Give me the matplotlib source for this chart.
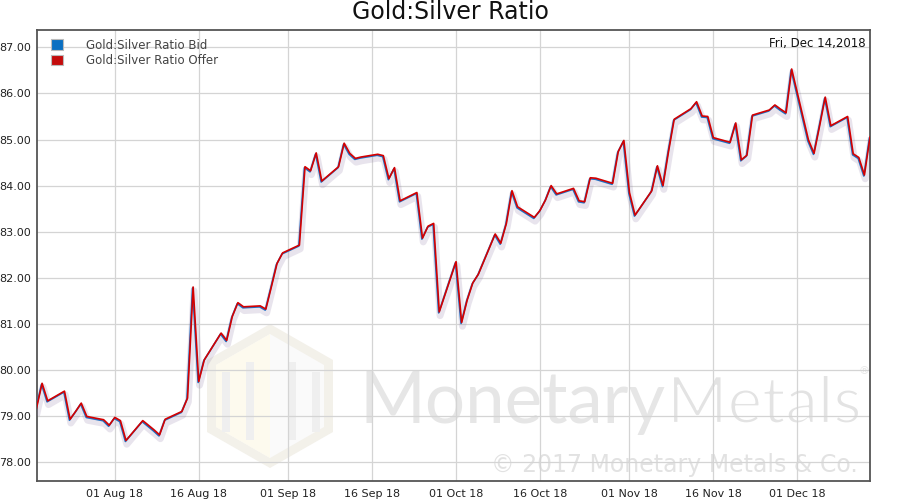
import numpy as np
import pandas as pd
import matplotlib
matplotlib.use("Agg")
import matplotlib.pyplot as plt
import matplotlib.dates as mdates
import matplotlib.patheffects as pe
import matplotlib.transforms as mtransforms
from matplotlib.patches import Patch, Polygon

# trading days shown on the chart
dates = pd.bdate_range("2018-07-18", "2018-12-14")

# gold:silver ratio (offer), one value per weekday
ratio_jul = [79.17, 79.71, 79.33, 79.54, 78.93, 79.10, 79.28, 78.99, 78.92, 78.80]
ratio_aug = [78.97, 78.90, 78.47, 78.90, 78.80, 78.70, 78.59, 78.93, 79.10, 79.39,
             81.80, 79.75, 80.22, 80.80, 80.64, 81.16, 81.46, 81.37, 81.39, 81.32,
             81.81, 82.31, 82.54]
ratio_sep = [82.71, 84.41, 84.32, 84.71, 84.10, 84.41, 84.92, 84.70, 84.59, 84.62,
             84.68, 84.65, 84.15, 84.39, 83.67, 83.85, 82.86, 83.12, 83.18, 81.26]
ratio_oct = [82.35, 81.03, 81.52, 81.89, 82.08, 82.95, 82.75, 83.18, 83.89, 83.54,
             83.31, 83.46, 83.69, 84.00, 83.82, 83.94, 83.67, 83.65, 84.17, 84.16,
             84.05, 84.74, 84.98]
ratio_nov = [83.85, 83.36, 83.89, 84.43, 84.00, 84.75, 85.44, 85.67, 85.82, 85.51,
             85.50, 85.04, 84.94, 85.36, 84.56, 84.66, 85.53, 85.64, 85.75, 85.66,
             85.58, 86.53]
ratio_dec = [84.99, 84.70, 85.30, 85.92, 85.30, 85.50, 84.69, 84.61, 84.23, 85.05]

offer = ratio_jul + ratio_aug + ratio_sep + ratio_oct + ratio_nov + ratio_dec
bid = offer  # bid sits right under the offer at this scale

y_ticks = [78, 79, 80, 81, 82, 83, 84, 85, 86, 87]
last_date_label = "Fri, Dec 14,2018"

W, H = 900, 500
fig = plt.figure(figsize=(9, 5), dpi=100)
ax = fig.add_axes([36.5 / W, 1 - 481 / H, (870 - 36.5) / W, (481 - 30.3) / H])


def px(x, y):
    # figure pixel (from top-left) -> figure fraction
    return (x / W, 1 - y / H)


def add_poly(points, color, z):
    fig.patches.append(Polygon([px(*p) for p in points], closed=True,
                               transform=fig.transFigure, facecolor=color,
                               edgecolor="none", zorder=z))


# ---- watermark (logo + text), kept behind the axes ----
wm = "#e6e6e6"
cx, cy, rx, ry = 270, 396, 63, 72
hexagon = [(cx, cy - ry), (cx + rx, cy - ry / 2), (cx + rx, cy + ry / 2),
           (cx, cy + ry), (cx - rx, cy + ry / 2), (cx - rx, cy - ry / 2)]
inner = [(cx, cy - ry + 10), (cx + rx - 9, cy - ry / 2 + 5), (cx + rx - 9, cy + ry / 2 - 5),
         (cx, cy + ry - 10), (cx - rx + 9, cy + ry / 2 - 5), (cx - rx + 9, cy - ry / 2 + 5)]
left_half = [(cx, cy - ry + 10), (cx, cy + ry - 10), (cx - rx + 9, cy + ry / 2 - 5),
             (cx - rx + 9, cy - ry / 2 + 5)]
add_poly(hexagon, "#f3f1ea", -3)
add_poly(inner, "#fafafa", -2.9)
add_poly(left_half, "#fdfaee", -2.8)
for bx, top, bot in [(226, 372, 432), (250, 362, 440), (292, 362, 440), (316, 372, 432)]:
    add_poly([(bx - 4, top), (bx + 4, top), (bx + 4, bot), (bx - 4, bot)], "#efefef", -2.7)

fig.text(*px(665, 423), "Monetary", ha="right", va="baseline", fontsize=51,
         family="Lato", color=wm, zorder=-2)
thin = [pe.Stroke(linewidth=1.6, foreground="white")]
fig.text(*px(667, 423), "Metals", ha="left", va="baseline", fontsize=47,
         family="Lato", color="#e3e3e3", zorder=-2, path_effects=thin)
fig.text(*px(859, 371), "\u00ae", ha="left", va="center", fontsize=8,
         color=wm, zorder=-2)
fig.text(*px(858, 472), "\u00a9 2017 Monetary Metals & Co.", ha="right", va="baseline",
         fontsize=17, family="DejaVu Sans", color="#e2e2e2", zorder=-2)

ax.set_facecolor("none")

# ---- series ----
shadow = [pe.SimpleLineShadow(offset=(1, -2), shadow_color="#8e7ca6", alpha=0.2,
                              linewidth=5), pe.Normal()]
bid_shift = mtransforms.offset_copy(ax.transData, fig=fig, x=-0.6, y=-1.0, units="dots")
ax.plot(dates, bid, color="#1f6fc4", lw=1.2, transform=bid_shift,
        path_effects=shadow, zorder=3)
ax.plot(dates, offer, color="#d40000", lw=1.2, zorder=4)

# ---- axes styling ----
ax.set_xlim(dates[0], dates[-1])
ax.set_ylim(77.59, 87.37)
ax.set_yticks(y_ticks)
ax.yaxis.set_major_formatter(matplotlib.ticker.FormatStrFormatter("%.2f"))
ax.xaxis.set_major_locator(mdates.DayLocator(bymonthday=[1, 16]))
ax.xaxis.set_major_formatter(mdates.DateFormatter("%d %b %y"))
ax.grid(True, color="#d4d4d4", lw=0.9)
ax.set_axisbelow(True)
ax.tick_params(length=0, labelsize=8, labelcolor="#222222")
ax.tick_params(axis="x", pad=6)
ax.tick_params(axis="y", pad=4)
for s in ax.spines.values():
    s.set_color("#555555")
    s.set_linewidth(1.3)

fig.text(0.5, 1 - 12 / H, "Gold:Silver Ratio", ha="center", va="center",
         fontsize=17, color="#111111")
ax.text(0.995, 0.97, last_date_label, transform=ax.transAxes, ha="right", va="center",
        fontsize=8.5, color="#111111")

handles = [Patch(facecolor="#0a6fc2", edgecolor="#bbbbbb", lw=0.8),
           Patch(facecolor="#c40c0c", edgecolor="#bbbbbb", lw=0.8)]
leg = ax.legend(handles, ["Gold:Silver Ratio Bid", "Gold:Silver Ratio Offer"],
                loc="upper left", bbox_to_anchor=(0.008, 1.0), frameon=False,
                fontsize=8.5, handlelength=1.0, handleheight=1.0, handletextpad=1.9,
                labelspacing=0.2, borderaxespad=0.3)
for t in leg.get_texts():
    t.set_color("#444444")

fig.savefig("out.png", dpi=100)
